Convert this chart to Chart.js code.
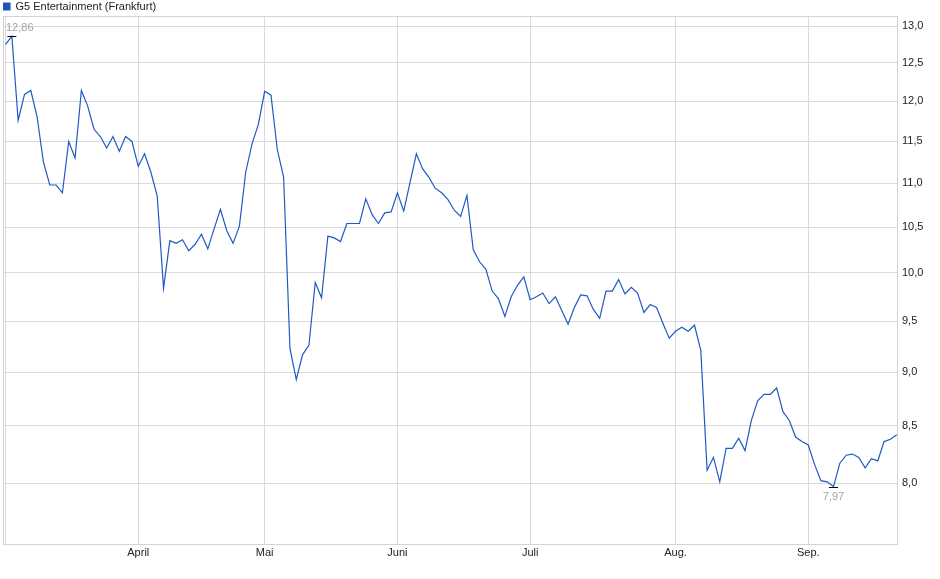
<!DOCTYPE html>
<html>
<head>
<meta charset="utf-8">
<script src="https://cdn.jsdelivr.net/npm/chart.js@4/dist/chart.umd.min.js"></script>
<style>
html,body{margin:0;padding:0;background:#fff;}
#wrap{width:940px;height:579px;position:relative;}
</style>
</head>
<body>
<div id="wrap"><canvas id="c" width="940" height="579"></canvas></div>
<script>
const seriesName = 'G5 Entertainment (Frankfurt)';
const prices = [
  12.75, 12.86, 11.76, 12.09, 12.14, 11.80, 11.25, 10.98, 10.98, 10.89,
  11.50, 11.30, 12.14, 11.94, 11.65, 11.56, 11.42, 11.56, 11.38, 11.56,
  11.50, 11.20, 11.35, 11.13, 10.85, 9.84, 10.35, 10.32, 10.36, 10.24,
  10.31, 10.42, 10.26, 10.48, 10.70, 10.46, 10.32, 10.51, 11.13, 11.47,
  11.71, 12.13, 12.08, 11.40, 11.07, 9.23, 8.93, 9.17, 9.26, 9.90,
  9.74, 10.40, 10.38, 10.34, 10.54, 10.54, 10.54, 10.82, 10.64, 10.54,
  10.66, 10.67, 10.89, 10.68, 11.01, 11.35, 11.17, 11.07, 10.94, 10.89,
  10.81, 10.69, 10.62, 10.86, 10.25, 10.12, 10.04, 9.81, 9.73, 9.55,
  9.75, 9.87, 9.96, 9.72, 9.75, 9.79, 9.68, 9.75, 9.61, 9.47,
  9.64, 9.77, 9.76, 9.62, 9.53, 9.81, 9.81, 9.93, 9.78, 9.85,
  9.79, 9.59, 9.67, 9.64, 9.48, 9.33, 9.40, 9.44, 9.40, 9.46,
  9.21, 8.11, 8.22, 8.01, 8.30, 8.30, 8.39, 8.28, 8.55, 8.73,
  8.79, 8.79, 8.85, 8.63, 8.55, 8.40, 8.36, 8.33, 8.16, 8.02,
  8.01, 7.97, 8.17, 8.24, 8.25, 8.22, 8.13, 8.21, 8.19, 8.36,
  8.38, 8.42
];
const monthStartIndex = [0, 21, 41, 62, 83, 106, 127];
const monthLabels = ['', 'April', 'Mai', 'Juni', 'Juli', 'Aug.', 'Sep.'];
const yTicks = [8.0, 8.5, 9.0, 9.5, 10.0, 10.5, 11.0, 11.5, 12.0, 12.5, 13.0];

const fmt = (v, d) => v.toFixed(d).replace('.', ',');
const gridColor = '#dadada';
const lineColor = '#1f5ac4';

Chart.defaults.font.family = "'Liberation Sans', Arial, sans-serif";
Chart.defaults.font.size = 11;
Chart.defaults.color = '#222';

const framePlugin = {
  id: 'frame',
  beforeDatasetsDraw(chart) {
    const a = chart.chartArea, ctx = chart.ctx;
    ctx.save();
    ctx.strokeStyle = '#d4d4d4';
    ctx.lineWidth = 1;
    ctx.strokeRect(Math.round(a.left) + 0.5, Math.round(a.top) + 0.5,
      Math.round(a.right - a.left) - 1, Math.round(a.bottom - a.top) - 1);
    ctx.restore();
  }
};

const extremaPlugin = {
  id: 'extrema',
  afterDatasetsDraw(chart) {
    const meta = chart.getDatasetMeta(0);
    const ctx = chart.ctx, a = chart.chartArea;
    let iMax = 0, iMin = 0;
    prices.forEach((v, i) => { if (v > prices[iMax]) iMax = i; if (v < prices[iMin]) iMin = i; });
    ctx.save();
    ctx.font = "11px 'Liberation Sans', Arial, sans-serif";
    ctx.textBaseline = 'middle';
    [[iMax, -8], [iMin, 10]].forEach(([idx, dy]) => {
      const p = meta.data[idx];
      ctx.strokeStyle = '#000';
      ctx.lineWidth = 1;
      ctx.beginPath();
      ctx.moveTo(p.x - 4.5, Math.round(p.y) + 0.5);
      ctx.lineTo(p.x + 4.5, Math.round(p.y) + 0.5);
      ctx.stroke();
      const txt = fmt(prices[idx], 2);
      const w = ctx.measureText(txt).width;
      let tx = p.x - w / 2;
      if (tx < a.left + 3) tx = a.left + 3;
      if (tx + w > a.right - 3) tx = a.right - 3 - w;
      ctx.fillStyle = '#a3a3a3';
      ctx.textAlign = 'left';
      ctx.fillText(txt, tx, p.y + dy);
    });
    ctx.restore();
  }
};

new Chart(document.getElementById('c'), {
  type: 'line',
  data: {
    datasets: [{
      label: seriesName,
      data: prices.map((v, i) => ({ x: i, y: v })),
      borderColor: lineColor,
      backgroundColor: '#1d52b8',
      borderWidth: 1.2,
      pointRadius: 0,
      tension: 0,
      fill: false
    }]
  },
  options: {
    responsive: false,
    animation: false,
    devicePixelRatio: 1,
    layout: { padding: { left: 3, top: 1, right: 0, bottom: 0 } },
    plugins: {
      legend: {
        display: true,
        position: 'top',
        align: 'start',
        maxHeight: 15,
        labels: {
          boxWidth: 7,
          boxHeight: 7,
          padding: 0,
          color: '#222',
          font: { size: 11 }
        }
      },
      tooltip: { enabled: false }
    },
    scales: {
      x: {
        type: 'linear',
        min: -0.4,
        max: 141.2,
        afterBuildTicks: s => { s.ticks = monthStartIndex.map(v => ({ value: v })); },
        afterFit: s => { s.height = 34; },
        ticks: {
          autoSkip: false,
          maxRotation: 0,
          padding: 1,
          color: '#222',
          callback: v => monthLabels[monthStartIndex.indexOf(v)] ?? ''
        },
        grid: { color: gridColor, drawTicks: false },
        border: { display: false }
      },
      y: {
        type: 'logarithmic',
        position: 'right',
        min: 7.49,
        max: 13.14,
        afterBuildTicks: s => { s.ticks = yTicks.map(v => ({ value: v })); },
        afterFit: s => { s.width = 42; },
        ticks: {
          padding: 4,
          color: '#222',
          callback: v => fmt(v, 1)
        },
        grid: { color: gridColor, drawTicks: false },
        border: { display: false }
      }
    }
  },
  plugins: [framePlugin, extremaPlugin]
});
</script>
</body>
</html>
